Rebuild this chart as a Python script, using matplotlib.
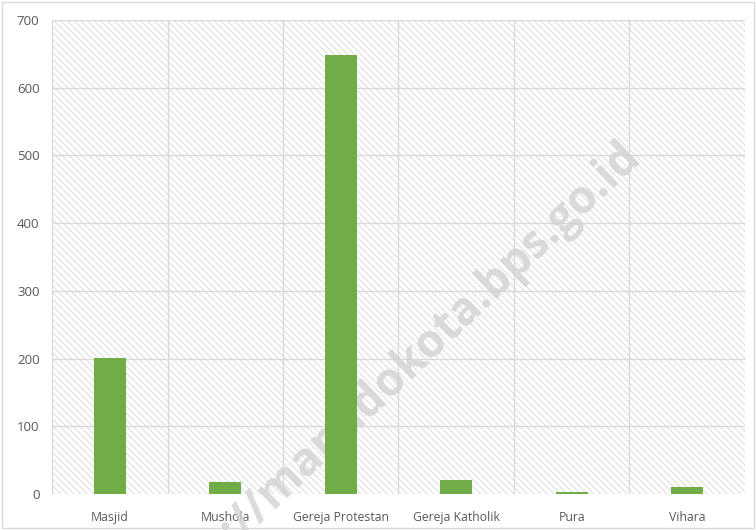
import numpy as np
import matplotlib.pyplot as plt
from matplotlib.patches import Rectangle

plt.rcParams.update({'font.family': ['Open Sans', 'DejaVu Sans']})
plt.rcParams.update({'font.size': 9.5})
plt.rcParams.update({'hatch.color': '#d6d6d6'})
plt.rcParams.update({'hatch.linewidth': 0.6})

categories = ['Masjid', 'Mushola', 'Gereja Protestan', 'Gereja Katholik', 'Pura', 'Vihara']
values = [201, 18, 648, 21, 3, 10]
yticks = [0, 100, 200, 300, 400, 500, 600, 700]

fig = plt.figure(figsize=(7.56, 5.30), dpi=100)
ax = fig.add_axes([0.0688, 0.0679, 0.9166, 0.8944])

x = np.arange(len(categories))
ax.set_xlim(-0.5, len(categories) - 0.5)
ax.set_ylim(0, 700)

# hatched plot area background
ax.add_patch(Rectangle((0, 0), 1, 1, transform=ax.transAxes, facecolor='white',
                       edgecolor='#d6d6d6', hatch='\\\\\\\\\\', linewidth=0.8, zorder=0))

# grid lines
for yv in yticks[1:]:
    ax.axhline(yv, color='#d9d9d9', linewidth=1, zorder=1)
for xv in np.arange(0.5, len(categories) - 0.5, 1):
    ax.axvline(xv, color='#d9d9d9', linewidth=1, zorder=1)

ax.bar(x, values, width=0.28, color='#70ad47', zorder=3)

ax.set_xticks(x)
ax.set_xticklabels(categories, color='#595959', fontsize=8.8)
ax.set_yticks(yticks)
ax.set_yticklabels([str(v) for v in yticks], color='#595959')
ax.tick_params(axis='both', length=0, pad=9)
ax.tick_params(axis='x', pad=12)
for s in ax.spines.values():
    s.set_visible(False)

# watermark (behind the bars)
ax.text(0.849, 0.702, 'http://manadokota.bps.go.id', transform=fig.transFigure,
        rotation=43.5, rotation_mode='anchor', fontsize=33, fontweight='bold',
        color='#d2d2d2', alpha=0.8, ha='right', va='baseline', zorder=2,
        clip_on=False)

# outer chart border
fig.patches.append(Rectangle((0.003, 0.003), 0.994, 0.994, transform=fig.transFigure,
                             fill=False, edgecolor='#d9d9d9', linewidth=1))

plt.savefig('out.png', dpi=100)
